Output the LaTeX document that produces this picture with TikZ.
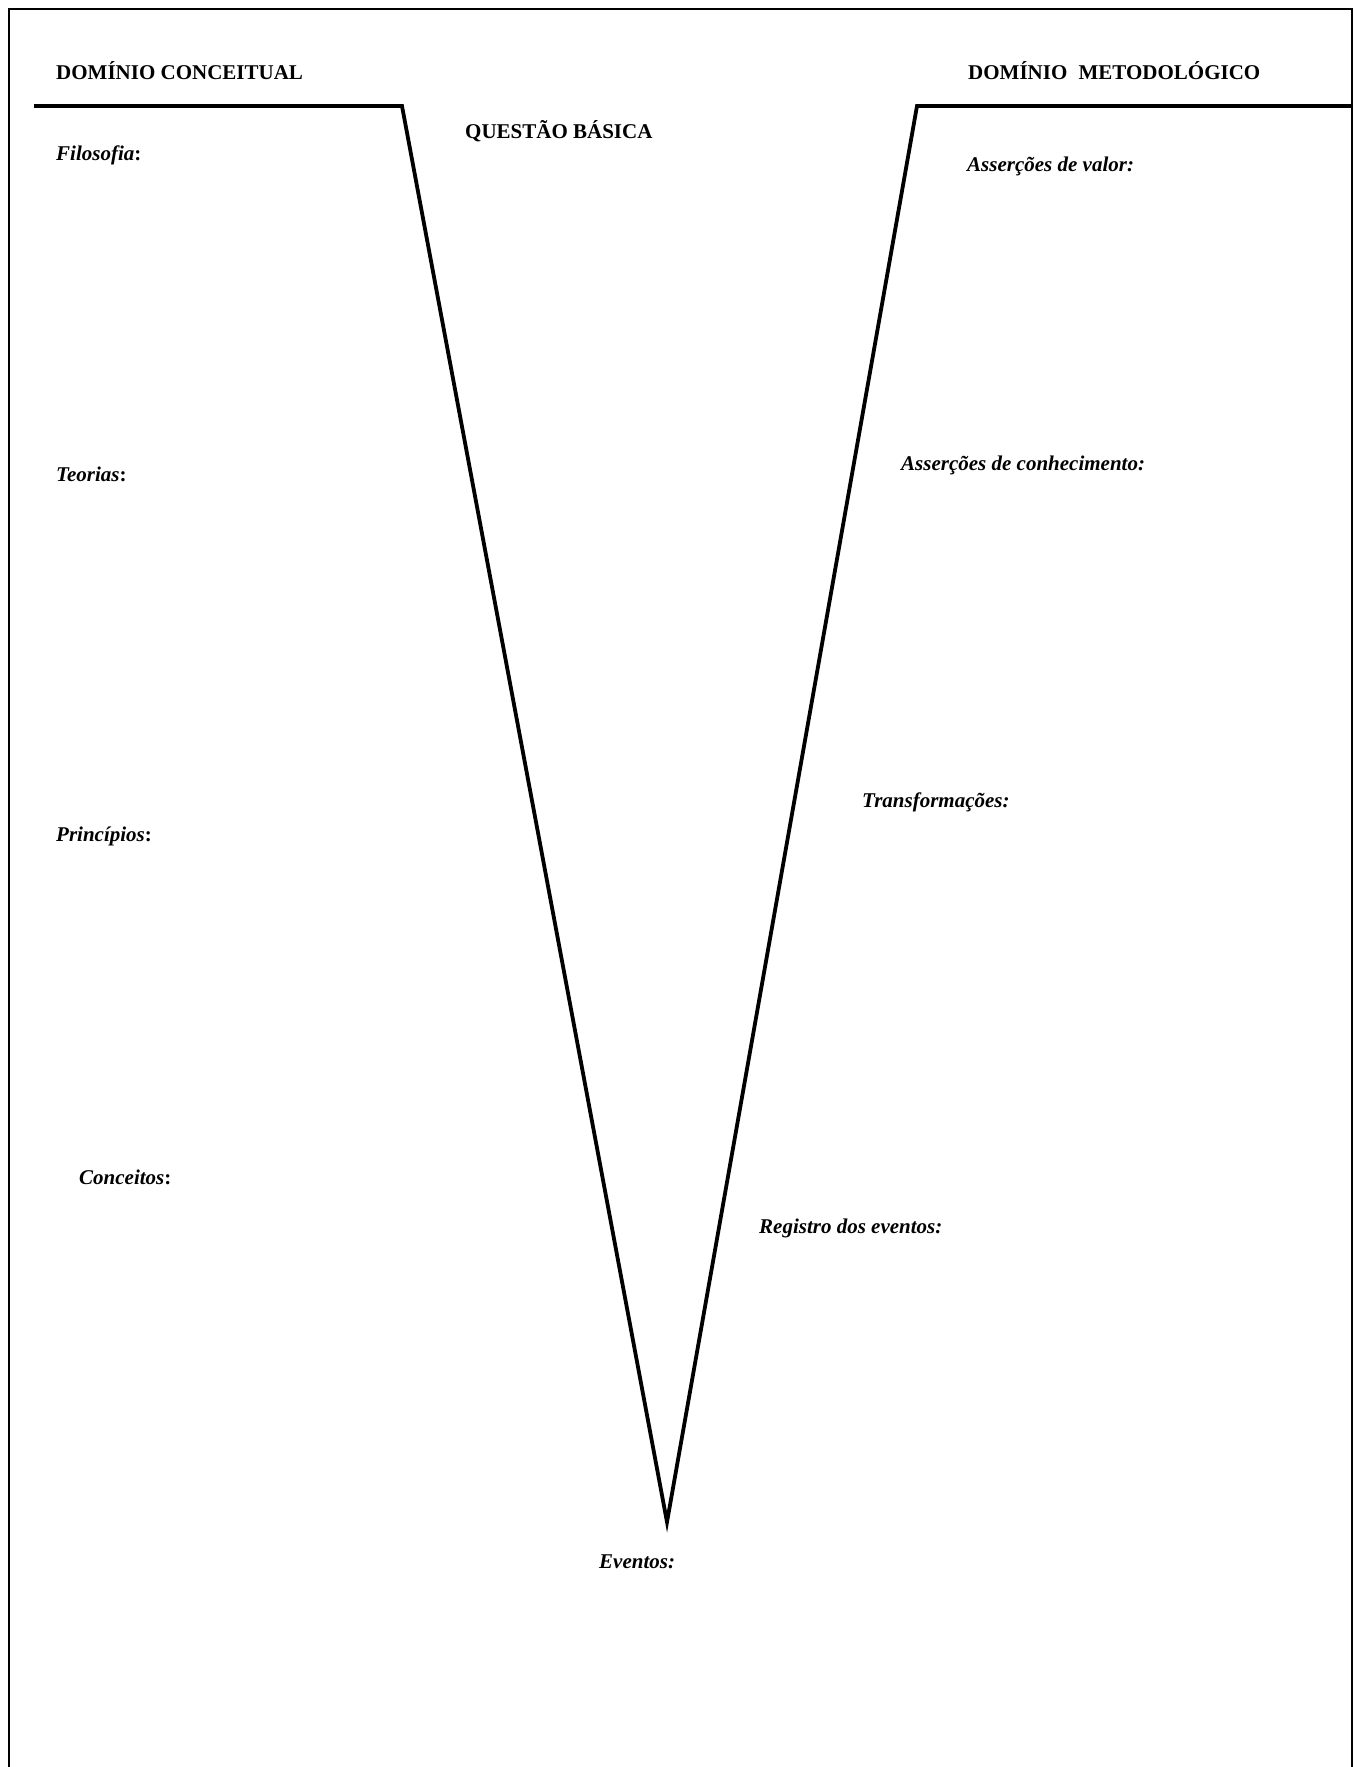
\documentclass[tikz,border=0pt]{standalone}
\usepackage{fontspec}
\setmainfont{Liberation Serif}
\begin{document}
\begin{tikzpicture}[x=1pt,y=-1pt,
  lbl/.style={anchor=base west,inner sep=0pt,font=\fontsize{21}{25}\selectfont\bfseries},
  vline/.style={line width=3.8pt,line join=miter},
  frame/.style={line width=2pt}]
\useasboundingbox (0,0) rectangle (1362,1767);
\begin{scope}
\clip (0,0) rectangle (1362,1767);
\draw[frame] (9,1800) -- (9,9) -- (1352,9) -- (1352,1800);
\end{scope}
\coordinate (l0) at (34,106);
\coordinate (l1) at (402,106);
\coordinate (apex) at (667,1522);
\coordinate (r1) at (917,106);
\coordinate (r0) at (1351,106);
\draw[vline] (l0) -- (l1) -- (apex) -- (r1) -- (r0);
\node[lbl] (dc) at (56,79) {DOMÍNIO CONCEITUAL};
\node[lbl] (dm) at (968,79) {DOMÍNIO\hspace{6pt} METODOLÓGICO};
\node[lbl] (qb) at (465,138) {QUESTÃO BÁSICA};
\node[lbl] (fil) at (56,160) {\textit{Filosofia}:};
\node[lbl] (teo) at (56,481) {\textit{Teorias}:};
\node[lbl] (pri) at (56,841) {\textit{Princípios}:};
\node[lbl] (con) at (79,1184) {\textit{Conceitos}:};
\node[lbl] (av) at (967,171) {\textit{Asserções de valor:}};
\node[lbl] (ac) at (901,470) {\textit{Asserções de conhecimento:}};
\node[lbl] (tr) at (862,807) {\textit{Transformações:}};
\node[lbl] (re) at (759,1233) {\textit{Registro dos eventos:}};
\node[lbl] (ev) at (599,1568) {\textit{Eventos:}};
\end{tikzpicture}
\end{document}
